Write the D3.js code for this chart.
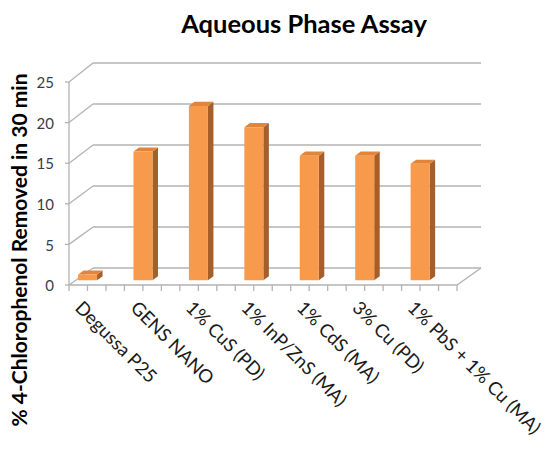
<!DOCTYPE html>
<html>
<head>
<meta charset="utf-8">
<script src="https://cdn.jsdelivr.net/npm/d3@7"></script>
<style>
  html, body { margin: 0; padding: 0; background: #fff; }
  svg { display: block; }
</style>
</head>
<body>
<svg id="chart" width="549" height="452"></svg>
<script>
// Percent of 4-chlorophenol removed after 30 minutes, per catalyst
const categories = ["Degussa P25", "GENS NANO", "1% CuS (PD)", "1% InP/ZnS (MA)", "1% CdS (MA)", "3% Cu (PD)", "1% PbS + 1% Cu (MA)"];
const removal = [0.7, 15.8, 21.4, 18.8, 15.3, 15.3, 14.3];
const yTicks = [0, 5, 10, 15, 20, 25];
const titleText = "Aqueous Phase Assay";
const yTitle = "% 4-Chlorophenol Removed in 30 min";

const svg = d3.select("#chart");
const font = "Lato, 'Open Sans', sans-serif";
const gridColor = "#b3b3b3";

// Oblique 3D frame: front plane scales plus a back plane shifted by the depth vector
const x = d3.scaleBand().domain(categories).range([69, 457]).padding(0);
const yFront = d3.scaleLinear().domain([0, 25]).range([285, 82]);
const yBack = d3.scaleLinear().domain([0, 25]).range([268, 63]);
const depthX = 24;

// project a point (screen x on the front plane, value, depth 0..1)
function proj(px, v, z) {
  return [px + z * depthX, yFront(v) * (1 - z) + yBack(v) * z];
}

const g = svg.append("g");

// back wall gridlines
g.selectAll("line.back").data(yTicks).join("line")
  .attr("x1", d => proj(x.range()[0], d, 1)[0])
  .attr("y1", d => proj(x.range()[0], d, 1)[1])
  .attr("x2", d => proj(x.range()[1], d, 1)[0])
  .attr("y2", d => proj(x.range()[1], d, 1)[1])
  .attr("stroke", gridColor).attr("stroke-width", 1.3);

// side wall gridlines
g.selectAll("line.side").data(yTicks).join("line")
  .attr("x1", d => proj(x.range()[0], d, 0)[0])
  .attr("y1", d => proj(x.range()[0], d, 0)[1])
  .attr("x2", d => proj(x.range()[0], d, 1)[0])
  .attr("y2", d => proj(x.range()[0], d, 1)[1])
  .attr("stroke", gridColor).attr("stroke-width", 1.3);

// floor outline (front edge and right edge)
const floorPts = [proj(x.range()[0], 0, 0), proj(x.range()[1], 0, 0), proj(x.range()[1], 0, 1)];
g.append("path")
  .attr("d", d3.line()(floorPts))
  .attr("fill", "none").attr("stroke", gridColor).attr("stroke-width", 1.3);

// vertical axis line on the front plane
g.append("line")
  .attr("x1", x.range()[0]).attr("x2", x.range()[0])
  .attr("y1", yFront(0)).attr("y2", yFront(25))
  .attr("stroke", gridColor).attr("stroke-width", 1.3);

// value ticks and labels
g.selectAll("line.yt").data(yTicks).join("line")
  .attr("x1", x.range()[0] - 4).attr("x2", x.range()[0])
  .attr("y1", d => yFront(d)).attr("y2", d => yFront(d))
  .attr("stroke", gridColor).attr("stroke-width", 1.3);
g.selectAll("text.yl").data(yTicks).join("text")
  .attr("x", x.range()[0] - 15)
  .attr("y", d => yFront(d) + 1)
  .attr("dy", "0.35em")
  .attr("text-anchor", "end")
  .attr("font-family", font).attr("font-size", 15)
  .attr("fill", "#3b3b48")
  .text(d => d);

// category ticks, three per category along the front floor edge
const sub = x.bandwidth() / 3;
const xTickPos = d3.range(categories.length * 3 + 1).map(i => x.range()[0] + i * sub);
g.selectAll("line.xt").data(xTickPos).join("line")
  .attr("x1", d => d).attr("x2", d => d)
  .attr("y1", yFront(0)).attr("y2", yFront(0) + 6)
  .attr("stroke", gridColor).attr("stroke-width", 1.3);

// bars: front face at depth zf, back face at depth zb
const zf = 0.28, zb = 0.51;
const barOff = x.bandwidth() * 0.042;
const barW = x.bandwidth() * 0.343;
const data = categories.map((c, i) => ({ c, v: removal[i] }));
const bars = g.selectAll("g.bar").data(data).join("g");
const line = d3.line();

bars.append("path") // right side
  .attr("d", d => {
    const x1 = x(d.c) + barOff + barW;
    return line([proj(x1, 0, zf), proj(x1, 0, zb), proj(x1, d.v, zb), proj(x1, d.v, zf)]) + "Z";
  })
  .attr("fill", "#a65f2a");

bars.append("path") // top
  .attr("d", d => {
    const x0 = x(d.c) + barOff, x1 = x0 + barW;
    return line([proj(x0, d.v, zf), proj(x1, d.v, zf), proj(x1, d.v, zb), proj(x0, d.v, zb)]) + "Z";
  })
  .attr("fill", "#e2843a");

bars.append("path") // front
  .attr("d", d => {
    const x0 = x(d.c) + barOff, x1 = x0 + barW;
    return line([proj(x0, 0, zf), proj(x1, 0, zf), proj(x1, d.v, zf), proj(x0, d.v, zf)]) + "Z";
  })
  .attr("fill", "#f79a4b");

// rotated category labels
g.selectAll("text.xl").data(categories).join("text")
  .attr("transform", d => `translate(${x(d) + 5},${yFront(0) + 24}) rotate(45)`)
  .attr("font-family", font).attr("font-size", 18.5)
  .attr("fill", "#1a1a1a")
  .text(d => d);

// chart title
svg.append("text")
  .attr("x", 304).attr("y", 33)
  .attr("text-anchor", "middle")
  .attr("font-family", font).attr("font-weight", "bold").attr("font-size", 25.5)
  .attr("fill", "#000")
  .text(titleText);

// value axis title
svg.append("text")
  .attr("transform", "translate(27,250) rotate(-90)")
  .attr("text-anchor", "middle")
  .attr("font-family", font).attr("font-weight", "bold").attr("font-size", 21)
  .attr("fill", "#000")
  .text(yTitle);
</script>
</body>
</html>
